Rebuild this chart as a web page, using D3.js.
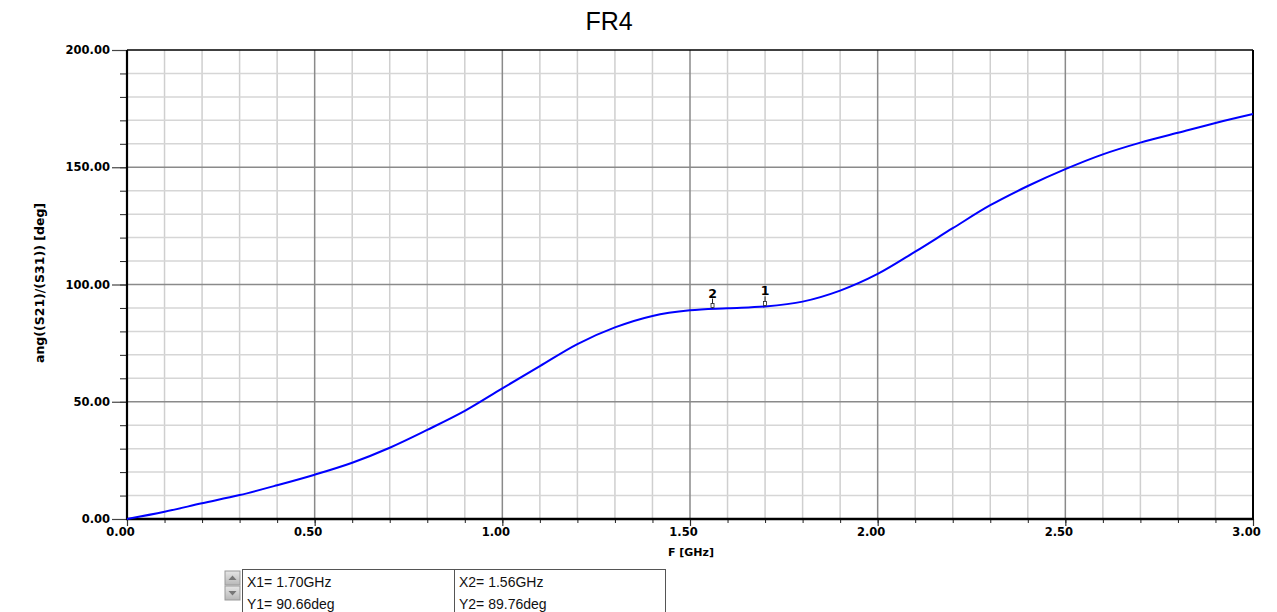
<!DOCTYPE html>
<html>
<head>
<meta charset="utf-8">
<script src="https://cdn.jsdelivr.net/npm/d3@7"></script>
<style>
  html, body { margin: 0; padding: 0; background: #fff; }
  svg { display: block; }
</style>
</head>
<body>
<svg id="chart" width="1277" height="612"></svg>
<script>
// Frequency sweep (GHz) and phase of S21/S31 (deg)
const freqGHz = [0.0, 0.1, 0.2, 0.3, 0.4, 0.5, 0.6, 0.7, 0.8, 0.9,
                 1.0, 1.1, 1.2, 1.3, 1.4, 1.5, 1.6, 1.7, 1.8, 1.9,
                 2.0, 2.1, 2.2, 2.3, 2.4, 2.5, 2.6, 2.7, 2.8, 2.9, 3.0];
const phaseDeg = [0.0, 3.1, 6.7, 10.2, 14.4, 18.9, 24.0, 30.4, 38.0, 46.1,
                  55.7, 65.2, 74.6, 81.7, 86.6, 89.0, 89.9, 90.66, 92.7, 97.4,
                  104.5, 114.0, 124.0, 133.8, 142.0, 149.2, 155.5, 160.5, 164.7, 168.9, 172.7];

// Markers
const markerNames = ["1", "2"];
const markerFreq = [1.70, 1.56];
const markerPhase = [90.66, 89.76];

// Axis ticks
const xMajorTicks = [0.0, 0.5, 1.0, 1.5, 2.0, 2.5, 3.0];
const yMajorTicks = [0, 50, 100, 150, 200];

const svg = d3.select("#chart");
const plotLeft = 127, plotRight = 1253, plotTop = 50, plotBottom = 519;

const x = d3.scaleLinear().domain([0, 3]).range([plotLeft, plotRight]);
const y = d3.scaleLinear().domain([0, 200]).range([plotBottom, plotTop]);

const xMinor = d3.range(0, 31).map(i => i / 10);
const yMinor = d3.range(0, 21).map(i => i * 10);

const isMajorX = v => Math.abs(v * 2 - Math.round(v * 2)) < 1e-6;
const isMajorY = v => v % 50 === 0;

// Minor grid
const grid = svg.append("g");
grid.selectAll("line.vmin").data(xMinor.filter(v => !isMajorX(v)))
  .join("line")
  .attr("x1", d => x(d)).attr("x2", d => x(d))
  .attr("y1", plotTop).attr("y2", plotBottom)
  .attr("stroke", "#cfcfcf").attr("stroke-width", 1.5);
grid.selectAll("line.hmin").data(yMinor.filter(v => !isMajorY(v)))
  .join("line")
  .attr("x1", plotLeft).attr("x2", plotRight)
  .attr("y1", d => y(d)).attr("y2", d => y(d))
  .attr("stroke", "#d6d6d6").attr("stroke-width", 1.5);

// Major grid
grid.selectAll("line.vmaj").data(xMajorTicks.filter(v => v > 0 && v < 3))
  .join("line")
  .attr("x1", d => x(d)).attr("x2", d => x(d))
  .attr("y1", plotTop).attr("y2", plotBottom)
  .attr("stroke", "#8a8a8a").attr("stroke-width", 1.5);
grid.selectAll("line.hmaj").data(yMajorTicks.filter(v => v > 0 && v < 200))
  .join("line")
  .attr("x1", plotLeft).attr("x2", plotRight)
  .attr("y1", d => y(d)).attr("y2", d => y(d))
  .attr("stroke", "#8a8a8a").attr("stroke-width", 1.5);

// Y axis: minor ticks plus long major ticks running into labels
const yAxisMinor = d3.axisLeft(y).tickValues(yMinor).tickSize(7).tickFormat("");
svg.append("g").attr("transform", `translate(${plotLeft},0)`).call(yAxisMinor)
  .call(g => g.select(".domain").remove())
  .call(g => g.selectAll("line").attr("stroke", "#222").attr("stroke-width", 1));
const yAxisMajor = d3.axisLeft(y).tickValues(yMajorTicks).tickSize(15).tickPadding(2)
  .tickFormat(d3.format(".2f"));
svg.append("g").attr("transform", `translate(${plotLeft},0)`).call(yAxisMajor)
  .call(g => g.select(".domain").remove())
  .call(g => g.selectAll("line").attr("stroke", "#444").attr("stroke-width", 1.2))
  .call(g => g.selectAll("text")
    .attr("font-family", "DejaVu Sans").attr("font-weight", "bold")
    .attr("font-size", "11.5px").attr("fill", "#000"));

// X axis: minor ticks, major ticks and labels
const xAxisMinor = d3.axisBottom(x).tickValues(xMinor).tickSize(4).tickFormat("");
svg.append("g").attr("transform", `translate(0,${plotBottom})`).call(xAxisMinor)
  .call(g => g.select(".domain").remove())
  .call(g => g.selectAll("line").attr("stroke", "#222").attr("stroke-width", 1));
const xAxisMajor = d3.axisBottom(x).tickValues(xMajorTicks).tickSize(7).tickPadding(2)
  .tickFormat(d3.format(".2f"));
svg.append("g").attr("transform", `translate(0,${plotBottom})`).call(xAxisMajor)
  .call(g => g.select(".domain").remove())
  .call(g => g.selectAll("line").attr("stroke", "#333").attr("stroke-width", 1.2))
  .call(g => g.selectAll("text")
    .attr("x", -7).attr("dy", "0.71em")
    .attr("font-family", "DejaVu Sans").attr("font-weight", "bold")
    .attr("font-size", "11.5px").attr("fill", "#000"));

// Plot frame
svg.append("line").attr("x1", plotLeft).attr("x2", plotRight).attr("y1", plotTop).attr("y2", plotTop)
  .attr("stroke", "#000").attr("stroke-width", 1.5);
svg.append("line").attr("x1", plotRight).attr("x2", plotRight).attr("y1", plotTop).attr("y2", plotBottom)
  .attr("stroke", "#000").attr("stroke-width", 2);
svg.append("line").attr("x1", plotLeft).attr("x2", plotLeft).attr("y1", plotTop).attr("y2", plotBottom + 1)
  .attr("stroke", "#000").attr("stroke-width", 2.2);
svg.append("line").attr("x1", plotLeft - 1).attr("x2", plotRight + 1).attr("y1", plotBottom).attr("y2", plotBottom)
  .attr("stroke", "#000").attr("stroke-width", 2.5);

// Phase curve
const pts = freqGHz.map((f, i) => [f, phaseDeg[i]]);
const line = d3.line().x(d => x(d[0])).y(d => y(d[1])).curve(d3.curveCatmullRom.alpha(0.5));
svg.append("path").datum(pts).attr("d", line)
  .attr("fill", "none").attr("stroke", "#0000ff").attr("stroke-width", 2);

// Markers on the curve
const mk = svg.append("g");
markerNames.forEach((name, i) => {
  const mx = x(markerFreq[i]), my = y(markerPhase[i]);
  mk.append("line").attr("x1", mx).attr("x2", mx).attr("y1", my - 10).attr("y2", my)
    .attr("stroke", "#222").attr("stroke-width", 1);
  mk.append("rect").attr("x", mx - 1.5).attr("y", my - 5).attr("width", 3).attr("height", 4)
    .attr("fill", "#fff").attr("stroke", "#222").attr("stroke-width", 0.8);
  mk.append("text").attr("x", mx).attr("y", my - 11)
    .attr("text-anchor", "middle")
    .attr("font-family", "DejaVu Sans").attr("font-weight", "bold")
    .attr("font-size", "12.5px").attr("fill", "#000").text(name);
});

// Titles
svg.append("text").attr("x", 609).attr("y", 30).attr("text-anchor", "middle")
  .attr("font-family", "Liberation Sans, Arial").attr("font-size", "25px")
  .attr("fill", "#000").text("FR4");
svg.append("text").attr("x", 691).attr("y", 556).attr("text-anchor", "middle")
  .attr("font-family", "DejaVu Sans").attr("font-weight", "bold")
  .attr("font-size", "11px").attr("fill", "#000").text("F [GHz]");
svg.append("text").attr("transform", "translate(44,283) rotate(-90)")
  .attr("text-anchor", "middle")
  .attr("font-family", "DejaVu Sans").attr("font-weight", "bold")
  .attr("font-size", "12.5px").attr("fill", "#000").text("ang((S21)/(S31)) [deg]");

// Marker readout table
const tbl = svg.append("g");
const defs = svg.append("defs");
const grad = defs.append("linearGradient").attr("id", "btn").attr("x1", 0).attr("x2", 0).attr("y1", 0).attr("y2", 1);
grad.append("stop").attr("offset", "0%").attr("stop-color", "#e6e6e6");
grad.append("stop").attr("offset", "100%").attr("stop-color", "#b8b8b8");
[[225, 571], [225, 586]].forEach(([bx, by], i) => {
  tbl.append("rect").attr("x", bx).attr("y", by).attr("width", 15).attr("height", 14)
    .attr("fill", "url(#btn)").attr("stroke", "#9a9a9a").attr("stroke-width", 1);
  const cx = bx + 7.5, cy = by + 7;
  const tri = i === 0
    ? `M${cx - 4},${cy + 2} L${cx},${cy - 2.5} L${cx + 4},${cy + 2} Z`
    : `M${cx - 4},${cy - 2} L${cx},${cy + 2.5} L${cx + 4},${cy - 2} Z`;
  tbl.append("path").attr("d", tri).attr("fill", "#777");
});
tbl.append("rect").attr("x", 242.5).attr("y", 569.5).attr("width", 423).attr("height", 50)
  .attr("fill", "#fff").attr("stroke", "#555").attr("stroke-width", 1);
tbl.append("line").attr("x1", 454.5).attr("x2", 454.5).attr("y1", 569.5).attr("y2", 612)
  .attr("stroke", "#555").attr("stroke-width", 1);
const fmt2 = d3.format(".2f");
const readout = [
  [247, 587, `X1= ${fmt2(markerFreq[0])}GHz`],
  [247, 609, `Y1= ${fmt2(markerPhase[0])}deg`],
  [459, 587, `X2= ${fmt2(markerFreq[1])}GHz`],
  [459, 609, `Y2= ${fmt2(markerPhase[1])}deg`]
];
tbl.selectAll("text.ro").data(readout).join("text")
  .attr("x", d => d[0]).attr("y", d => d[1])
  .attr("font-family", "Liberation Sans, Arial").attr("font-size", "14px")
  .attr("fill", "#111").text(d => d[2]);
</script>
</body>
</html>
